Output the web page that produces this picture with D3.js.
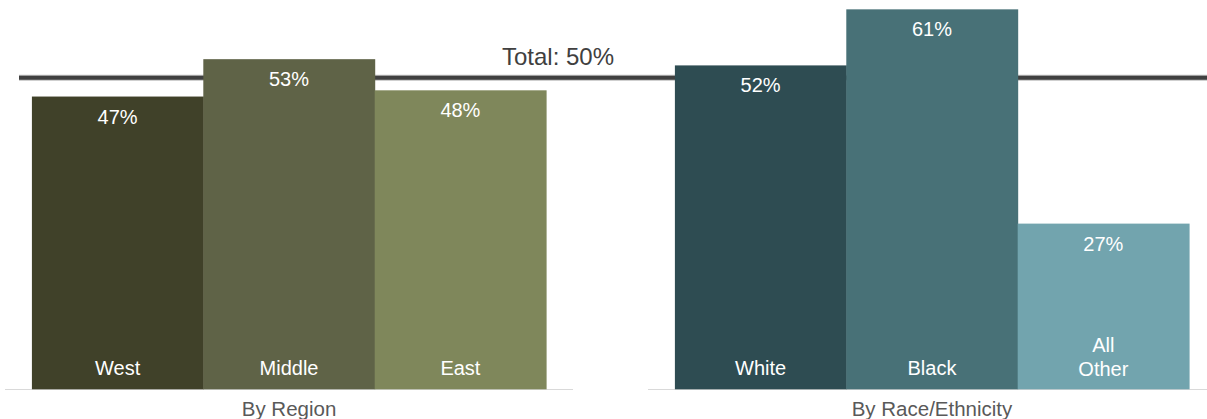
<!DOCTYPE html>
<html><head><meta charset="utf-8">
<script src="https://cdn.jsdelivr.net/npm/d3@7"></script>
<style>body{margin:0;background:#fff}svg{display:block;font-family:"Liberation Sans",Arial,sans-serif}</style>
</head><body><div id="chart"></div>
<script>
const groups = ["By Region", "By Race/Ethnicity"];
const regionCats = ["West", "Middle", "East"];
const regionVals = [47, 53, 48];
const raceCats = ["White", "Black", "All Other"];
const raceVals = [52, 61, 26.6];
const totalVal = 50;
const totalLabel = "Total: 50%";
const regionColors = ["#404129", "#5f6347", "#7f875b"];
const raceColors = ["#2e4c52", "#487177", "#72a4ae"];

const W = 1207, H = 419;
const svg = d3.select("#chart").append("svg").attr("width", W).attr("height", H);

const x0 = d3.scaleBand().domain(groups).range([5, 1216]).paddingInner(0.1166);
const y = d3.scaleLinear().domain([0, 62.5]).range([389.3, 0]);

const data = [
  {g: groups[0], cats: regionCats, vals: regionVals, colors: regionColors},
  {g: groups[1], cats: raceCats, vals: raceVals, colors: raceColors}
];

// total line (behind bars)
svg.append("line").attr("x1", 19).attr("x2", W).attr("y1", y(totalVal)).attr("y2", y(totalVal))
  .attr("stroke", "#bfbfbf").attr("stroke-width", 6);
svg.append("line").attr("x1", 19).attr("x2", W).attr("y1", y(totalVal)).attr("y2", y(totalVal))
  .attr("stroke", "#404040").attr("stroke-width", 4);

data.forEach(d => {
  const gx = x0(d.g);
  const g = svg.append("g").attr("transform", `translate(${gx},0)`);
  g.append("line").attr("x1", 0).attr("x2", x0.bandwidth()).attr("y1", 389.5).attr("y2", 389.5)
    .attr("stroke", "#d9d9d9").attr("stroke-width", 1);
  const x1 = d3.scaleBand().domain(d.cats).range([0, x0.bandwidth()]).paddingOuter(0.157).paddingInner(0);
  const bars = d.cats.map((c, i) => ({c, v: d.vals[i], col: d.colors[i]}));
  g.selectAll("rect").data(bars).join("rect")
    .attr("x", b => x1(b.c)).attr("width", x1.bandwidth() + 0.5)
    .attr("y", b => y(b.v)).attr("height", b => y(0) - y(b.v))
    .attr("fill", b => b.col);
  g.selectAll("text.val").data(bars).join("text").attr("class", "val")
    .attr("x", b => x1(b.c) + x1.bandwidth() / 2).attr("y", b => y(b.v) + 27)
    .attr("text-anchor", "middle").attr("fill", "#fff").attr("font-size", 20)
    .text(b => Math.round(b.v) + "%");
  bars.forEach(b => {
    const words = b.c.split(" ");
    const t = g.append("text").attr("text-anchor", "middle").attr("fill", "#fff").attr("font-size", 20);
    const cx = x1(b.c) + x1.bandwidth() / 2;
    const last = words.length === 1 ? 375 : 376;
    words.forEach((w, k) => {
      t.append("tspan").attr("x", cx).attr("y", last - (words.length - 1 - k) * 24).text(w);
    });
  });
  svg.append("text").attr("x", gx + x0.bandwidth() / 2).attr("y", 416)
    .attr("text-anchor", "middle").attr("fill", "#595959").attr("font-size", 20.5).text(d.g);
});

svg.append("text").attr("x", 558).attr("y", 65).attr("text-anchor", "middle")
  .attr("fill", "#404040").attr("font-size", 24).text(totalLabel);
</script></body></html>
